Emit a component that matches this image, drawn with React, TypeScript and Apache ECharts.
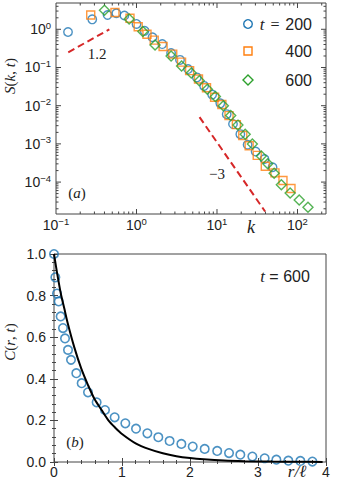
import React, { useEffect, useRef } from "react";
import * as echarts from "echarts";

// ---------- Panel (a): S(k,t) ----------
const k200 = [0.141, 0.282, 0.437, 0.562, 0.708, 1.0, 1.26, 1.58, 2.09, 2.69, 3.47, 4.37, 5.62, 6.92, 8.71, 11.0, 13.2, 15.8, 19.5, 24.0, 30.2, 38.9, 49.0];
const s200 = [0.85, 1.82, 2.37, 2.63, 2.29, 1.38, 0.91, 0.62, 0.41, 0.24, 0.158, 0.091, 0.055, 0.033, 0.0195, 0.0115, 0.006, 0.0033, 0.0018, 0.00095, 0.00063, 0.0004, 0.000245];

const k400 = [0.27, 0.54, 0.83, 1.05, 1.35, 1.66, 2.14, 2.82, 3.63, 4.57, 5.89, 7.41, 9.33, 11.5, 14.1, 17.4, 20.9, 25.1, 31.6, 39.8, 52.5, 66.0, 83.0];
const s400 = [2.37, 2.75, 1.95, 1.17, 0.74, 0.52, 0.355, 0.224, 0.138, 0.083, 0.05, 0.0295, 0.0166, 0.0107, 0.0055, 0.0032, 0.00166, 0.00089, 0.0005, 0.00026, 0.000174, 0.00011, 0.000068];

const k600 = [0.40, 0.81, 1.2, 1.7, 2.69, 3.63, 4.79, 6.03, 7.59, 9.55, 12.0, 14.8, 18.2, 22.4, 27.5, 35.5, 42.7, 51.3, 63.0, 81.0, 105, 135];
const s600 = [3.16, 1.86, 0.87, 0.39, 0.2, 0.11, 0.072, 0.045, 0.027, 0.0174, 0.01, 0.0055, 0.0031, 0.00178, 0.001, 0.00048, 0.0003, 0.00017, 0.000085, 0.000052, 0.000034, 0.000022];

const guide12K = [0.142, 0.46];
const guide12S = [0.25, 1.0];
const guide3K = [6.07, 39.6];
const guide3S = [0.005, 0.000017];

const kRange = [0.1, 226];
const sRange = [1.46e-5, 4.88];
const kMajorExp = [-1, 0, 1, 2];
const sMajorExp = [-4, -3, -2, -1, 0];

// ---------- Panel (b): C(r,t) ----------
const rC = [0, 0.02, 0.044, 0.069, 0.098, 0.132, 0.162, 0.206, 0.25, 0.328, 0.407, 0.5, 0.627, 0.75, 0.892, 1.049, 1.206, 1.373, 1.534, 1.70, 1.873, 2.04, 2.216, 2.40, 2.574, 2.74, 2.917, 3.098, 3.27, 3.446, 3.623, 3.80];
const cC = [1.0, 0.888, 0.81, 0.772, 0.70, 0.644, 0.594, 0.539, 0.491, 0.427, 0.379, 0.335, 0.287, 0.25, 0.215, 0.186, 0.16, 0.138, 0.119, 0.101, 0.087, 0.074, 0.063, 0.053, 0.043, 0.035, 0.026, 0.018, 0.011, 0.0064, 0.005, 0.002];

const rFit = [0, 0.05, 0.1, 0.15, 0.2, 0.3, 0.4, 0.5, 0.6, 0.7, 0.8, 0.9, 1.0, 1.2, 1.4, 1.6, 1.8, 2.0, 2.2, 2.5, 2.8, 3.2, 3.6, 3.95];
const cFit = [1.0, 0.90, 0.81, 0.74, 0.67, 0.55, 0.45, 0.37, 0.30, 0.25, 0.20, 0.165, 0.135, 0.09, 0.062, 0.042, 0.028, 0.019, 0.013, 0.007, 0.004, 0.002, 0.001, 0.0005];

const rTicks = [0, 1, 2, 3, 4];
const cTicks = [0, 0.2, 0.4, 0.6, 0.8, 1.0];

const BLUE = "#1f77b4";
const ORANGE = "#ff7f0e";
const GREEN = "#2ca02c";
const RED = "#d62728";
const AX = "#444";
const TXT = "#222";
const SANS = "Liberation Sans, Arial, sans-serif";
const SERIF = "Liberation Serif, Times New Roman, serif";

const lg = Math.log10;
const toLog = (xs: number[], ys: number[]) => xs.map((x, i) => [lg(x), lg(ys[i])]);

function buildTicks() {
  const out: number[][] = [];
  const x0 = lg(kRange[0]), x1 = lg(kRange[1]);
  const y0 = lg(sRange[0]), y1 = lg(sRange[1]);
  for (let d = -2; d <= 3; d++) {
    for (let m = 1; m <= 9; m++) {
      const p = d + lg(m);
      const len = m === 1 ? 5 : 2.5;
      if (p > x0 + 1e-6 && p < x1 - 1e-6) { out.push([p, 0, len]); out.push([p, 1, len]); }
    }
  }
  for (let d = -6; d <= 1; d++) {
    for (let m = 1; m <= 9; m++) {
      const p = d + lg(m);
      const len = m === 1 ? 5 : 2.5;
      if (p > y0 + 1e-6 && p < y1 - 1e-6) { out.push([p, 2, len]); out.push([p, 3, len]); }
    }
  }
  return out;
}

const powLabel = (v: number) => {
  const n = Math.round(v);
  if (Math.abs(v - n) > 1e-6) return "";
  if (!kMajorExp.includes(n) && !sMajorExp.includes(n)) return "";
  const s = n < 0 ? "\u2212" + -n : String(n);
  return `{b|10}{s|${s}}`;
};

const powRich = {
  b: { fontSize: 14, fontFamily: SANS, color: TXT, lineHeight: 18 },
  s: { fontSize: 9.5, fontFamily: SANS, color: TXT, lineHeight: 9, verticalAlign: "top" as const },
};

export default function App() {
  const ref = useRef<HTMLDivElement>(null);
  useEffect(() => {
    document.body.style.margin = "0";
    if (!ref.current) return;
    const chart = echarts.init(ref.current, undefined, { renderer: "svg" });
    const X0 = lg(kRange[0]), X1 = lg(kRange[1]);
    const Y0 = lg(sRange[0]), Y1 = lg(sRange[1]);

    const hollow = (c: string) => ({ color: "rgba(0,0,0,0)", borderColor: c, borderWidth: 1.4 });

    const option: any = {
      animation: false,
      grid: [
        { left: 56, top: 3, width: 270, height: 211, show: true, borderColor: AX, borderWidth: 1, backgroundColor: "transparent" },
        { left: 54, top: 254, width: 272, height: 208, show: true, borderColor: AX, borderWidth: 1, backgroundColor: "transparent" },
      ],
      xAxis: [
        {
          gridIndex: 0, type: "value", min: X0, max: X1, splitNumber: 3,
          axisLine: { show: false }, axisTick: { show: false }, splitLine: { show: false },
          axisLabel: { formatter: powLabel, rich: powRich, margin: 2, showMinLabel: true },
        },
        {
          gridIndex: 1, type: "value", min: 0, max: 4, interval: 1, position: "bottom",
          axisLine: { show: false }, splitLine: { show: false },
          axisTick: { show: true, inside: true, length: 4, lineStyle: { color: AX } },
          minorTick: { show: true, splitNumber: 5, length: 2, lineStyle: { color: AX } },
          axisLabel: { fontSize: 14, fontFamily: SANS, color: TXT, margin: 3, formatter: (v: number) => (rTicks.includes(v) ? String(v) : "") },
        },
        {
          gridIndex: 1, type: "value", min: 0, max: 4, interval: 1, position: "top",
          axisLine: { show: false }, splitLine: { show: false }, axisLabel: { show: false },
          axisTick: { show: true, inside: true, length: 4, lineStyle: { color: AX } },
          minorTick: { show: true, splitNumber: 5, length: 2, lineStyle: { color: AX } },
        },
      ],
      yAxis: [
        {
          gridIndex: 0, type: "value", min: Y0, max: Y1, splitNumber: 5,
          axisLine: { show: false }, axisTick: { show: false }, splitLine: { show: false },
          axisLabel: { formatter: powLabel, rich: powRich, margin: 5 },
        },
        {
          gridIndex: 1, type: "value", min: 0, max: 1, interval: 0.2, position: "left",
          axisLine: { show: false }, splitLine: { show: false },
          axisTick: { show: true, inside: true, length: 4, lineStyle: { color: AX } },
          minorTick: { show: true, splitNumber: 5, length: 2, lineStyle: { color: AX } },
          axisLabel: { fontSize: 14, fontFamily: SANS, color: TXT, margin: 8, formatter: (v: number) => (cTicks.some((t) => Math.abs(t - v) < 1e-9) ? v.toFixed(1) : "") },
        },
        {
          gridIndex: 1, type: "value", min: 0, max: 1, interval: 0.2, position: "right",
          axisLine: { show: false }, splitLine: { show: false }, axisLabel: { show: false },
          axisTick: { show: true, inside: true, length: 4, lineStyle: { color: AX } },
          minorTick: { show: true, splitNumber: 5, length: 2, lineStyle: { color: AX } },
        },
      ],
      series: [
        {
          type: "custom", xAxisIndex: 0, yAxisIndex: 0, silent: true, clip: false,
          data: buildTicks(),
          renderItem: (_p: any, api: any) => {
            const pos = api.value(0), side = api.value(1), len = api.value(2);
            let a: number[], b: number[];
            if (side === 0) { a = api.coord([pos, Y0]); b = [a[0], a[1] - len]; }
            else if (side === 1) { a = api.coord([pos, Y1]); b = [a[0], a[1] + len]; }
            else if (side === 2) { a = api.coord([X0, pos]); b = [a[0] + len, a[1]]; }
            else { a = api.coord([X1, pos]); b = [a[0] - len, a[1]]; }
            return { type: "line", shape: { x1: a[0], y1: a[1], x2: b[0], y2: b[1] }, style: { stroke: AX, lineWidth: 1 } };
          },
        },
        {
          type: "line", xAxisIndex: 0, yAxisIndex: 0, data: toLog(guide12K, guide12S), symbol: "none",
          lineStyle: { color: RED, width: 2, type: [7, 4] }, silent: true,
        },
        {
          type: "line", xAxisIndex: 0, yAxisIndex: 0, data: toLog(guide3K, guide3S), symbol: "none",
          lineStyle: { color: RED, width: 2, type: [7, 4] }, silent: true,
        },
        { type: "scatter", name: "200", xAxisIndex: 0, yAxisIndex: 0, data: toLog(k200, s200), symbol: "circle", symbolSize: 8.5, itemStyle: hollow(BLUE) },
        { type: "scatter", name: "400", xAxisIndex: 0, yAxisIndex: 0, data: toLog(k400, s400), symbol: "rect", symbolSize: 8, itemStyle: hollow(ORANGE) },
        { type: "scatter", name: "600", xAxisIndex: 0, yAxisIndex: 0, data: toLog(k600, s600), symbol: "diamond", symbolSize: 10, itemStyle: hollow(GREEN) },
        {
          type: "line", xAxisIndex: 1, yAxisIndex: 1, data: rFit.map((r, i) => [r, cFit[i]]), symbol: "none", smooth: 0.3,
          lineStyle: { color: "#000", width: 2 }, silent: true,
        },
        {
          type: "scatter", xAxisIndex: 1, yAxisIndex: 1, data: rC.map((r, i) => [r, cC[i]]), symbol: "circle", symbolSize: 8.5,
          itemStyle: { color: "rgba(0,0,0,0)", borderColor: BLUE, borderWidth: 1.6 }, clip: false,
        },
      ],
      graphic: [
        // legend panel (a)
        { type: "circle", shape: { cx: 248, cy: 24, r: 4.3 }, style: { fill: "none", stroke: BLUE, lineWidth: 1.4 }, z: 10 },
        { type: "rect", shape: { x: 244, y: 47, width: 8, height: 8 }, style: { fill: "none", stroke: ORANGE, lineWidth: 1.4 }, z: 10 },
        { type: "polygon", shape: { points: [[248, 75], [253, 80], [248, 85], [243, 80]] }, style: { fill: "none", stroke: GREEN, lineWidth: 1.4 }, z: 10 },
        { type: "text", x: 262, y: 24, style: { text: "t", font: `italic 17px ${SERIF}`, fill: TXT, align: "center", verticalAlign: "middle" }, z: 10 },
        { type: "text", x: 275, y: 24, style: { text: "=", font: `16px ${SERIF}`, fill: TXT, align: "center", verticalAlign: "middle" }, z: 10 },
        { type: "text", x: 312, y: 24, style: { text: "200", font: `16px ${SANS}`, fill: TXT, align: "right", verticalAlign: "middle" }, z: 10 },
        { type: "text", x: 312, y: 51, style: { text: "400", font: `16px ${SANS}`, fill: TXT, align: "right", verticalAlign: "middle" }, z: 10 },
        { type: "text", x: 312, y: 80, style: { text: "600", font: `16px ${SANS}`, fill: TXT, align: "right", verticalAlign: "middle" }, z: 10 },
        // annotations (a)
        { type: "text", x: 97, y: 54, style: { text: "1.2", font: `15px ${SERIF}`, fill: TXT, align: "center", verticalAlign: "middle" }, z: 10 },
        { type: "text", x: 217, y: 174, style: { text: "\u22123", font: `15px ${SERIF}`, fill: TXT, align: "center", verticalAlign: "middle" }, z: 10 },
        {
          type: "text", x: 77, y: 193,
          style: { text: "{n|(}{i|a}{n|)}", rich: { n: { font: `15px ${SERIF}`, fill: TXT }, i: { font: `italic 15px ${SERIF}`, fill: TXT } }, align: "center", verticalAlign: "middle" }, z: 10,
        },
        { type: "text", x: 251, y: 227, style: { text: "k", font: `italic 18px ${SERIF}`, fill: TXT, align: "center", verticalAlign: "middle" }, z: 10 },
        {
          type: "text", x: 10, y: 76, rotation: Math.PI / 2,
          style: { text: "{i|S}{n|(}{i|k}{n|, }{i|t}{n|)}", rich: { n: { font: `15px ${SERIF}`, fill: TXT }, i: { font: `italic 15px ${SERIF}`, fill: TXT } }, align: "center", verticalAlign: "middle" }, z: 10,
        },
        // annotations (b)
        {
          type: "text", x: 10, y: 342, rotation: Math.PI / 2,
          style: { text: "{i|C}{n|(}{i|r}{n|, }{i|t}{n|)}", rich: { n: { font: `15px ${SERIF}`, fill: TXT }, i: { font: `italic 15px ${SERIF}`, fill: TXT } }, align: "center", verticalAlign: "middle" }, z: 10,
        },
        {
          type: "text", x: 285, y: 276,
          style: { text: "{i|t}{n| = 600}", rich: { n: { font: `16px ${SANS}`, fill: TXT }, i: { font: `italic 17px ${SERIF}`, fill: TXT } }, align: "center", verticalAlign: "middle" }, z: 10,
        },
        {
          type: "text", x: 75, y: 442,
          style: { text: "{n|(}{i|b}{n|)}", rich: { n: { font: `15px ${SERIF}`, fill: TXT }, i: { font: `italic 15px ${SERIF}`, fill: TXT } }, align: "center", verticalAlign: "middle" }, z: 10,
        },
        { type: "text", x: 297, y: 471, style: { text: "r/\u2113", font: `italic 17px ${SERIF}`, fill: TXT, align: "center", verticalAlign: "middle" }, z: 10 },
      ],
    };
    chart.setOption(option);
    return () => chart.dispose();
  }, []);
  return <div ref={ref} style={{ width: 338, height: 485 }} />;
}
